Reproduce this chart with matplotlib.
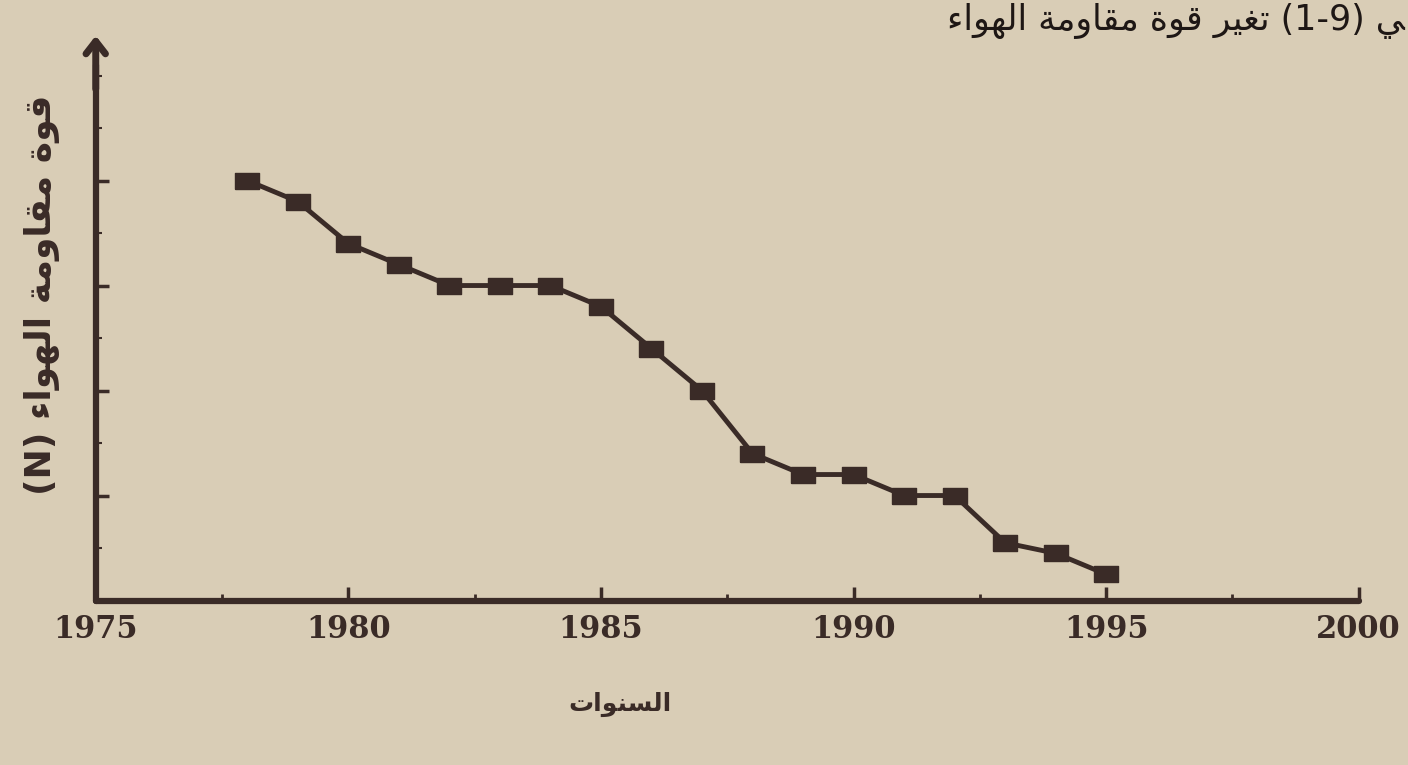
import matplotlib
matplotlib.use("Agg")
import matplotlib.pyplot as plt
from matplotlib.ticker import MultipleLocator, NullFormatter

# ---------------- data ----------------
years = [1978, 1979, 1980, 1981, 1982, 1983, 1984, 1985, 1986,
         1987, 1988, 1989, 1990, 1991, 1992, 1993, 1994, 1995]
force = [4.0, 3.8, 3.4, 3.2, 3.0, 3.0, 3.0, 2.8, 2.4,
         2.0, 1.4, 1.2, 1.2, 1.0, 1.0, 0.55, 0.45, 0.25]
x_ticks = [1975, 1980, 1985, 1990, 1995, 2000]
x_tick_labels = ["1975", "1980", "1985", "1990", "1995", "2000"]
y_label_ar = "قوة مقاومة الهواء"
y_label_unit = "(N)"
x_label_ar = "السنوات"
caption_ar = "تغير قوة مقاومة الهواء"
caption_num = "(1-9)"

# ------------- minimal Arabic shaping (presentation forms, visual order) -------------
FORMS = {  # iso, fin, ini, med
    "ا": (0xFE8D, 0xFE8E, None, None),
    "ء": (0xFE80, None, None, None),
    "ة": (0xFE93, 0xFE94, None, None),
    "ت": (0xFE95, 0xFE96, 0xFE97, 0xFE98),
    "س": (0xFEB1, 0xFEB2, 0xFEB3, 0xFEB4),
    "ق": (0xFED5, 0xFED6, 0xFED7, 0xFED8),
    "ل": (0xFEDD, 0xFEDE, 0xFEDF, 0xFEE0),
    "م": (0xFEE1, 0xFEE2, 0xFEE3, 0xFEE4),
    "ن": (0xFEE5, 0xFEE6, 0xFEE7, 0xFEE8),
    "ه": (0xFEE9, 0xFEEA, 0xFEEB, 0xFEEC),
    "و": (0xFEED, 0xFEEE, None, None),
    "ي": (0xFEF1, 0xFEF2, 0xFEF3, 0xFEF4),
    "غ": (0xFECD, 0xFECE, 0xFECF, 0xFED0),
    "ر": (0xFEAD, 0xFEAE, None, None),
}


def joins_forward(ch):
    return ch in FORMS and FORMS[ch][2] is not None


def joins_backward(ch):
    return ch in FORMS and FORMS[ch][1] is not None


def shape(text):
    out = []
    for i, ch in enumerate(text):
        if ch not in FORMS:
            out.append(ch)
            continue
        iso, fin, ini, med = FORMS[ch]
        prev_j = i > 0 and joins_forward(text[i - 1]) and fin is not None
        next_j = (i < len(text) - 1 and ini is not None
                  and joins_backward(text[i + 1]))
        if prev_j and next_j:
            cp = med
        elif prev_j:
            cp = fin
        elif next_j:
            cp = ini
        else:
            cp = iso
        out.append(chr(cp))
    return "".join(reversed(out))


# ---------------- figure ----------------
INK = "#3a2b27"
BG = "#d9cdb6"

fig = plt.figure(figsize=(14.08, 7.65), dpi=100, facecolor=BG)
ax = fig.add_axes([0.068, 0.215, 0.897, 0.70])
ax.set_facecolor(BG)

ax.plot(years, force, color=INK, lw=3.5,
        marker=[(-1.4, -1), (1.4, -1), (1.4, 1), (-1.4, 1), (-1.4, -1)],
        markersize=17, markerfacecolor=INK, markeredgecolor=INK,
        clip_on=False, zorder=3)

ax.set_xlim(1975, 2000)
ax.set_ylim(0, 5.1)

for s in ["top", "right"]:
    ax.spines[s].set_visible(False)
for s in ["left", "bottom"]:
    ax.spines[s].set_linewidth(4.5)
    ax.spines[s].set_color(INK)
    ax.spines[s].set_capstyle("round")

ax.set_xticks(x_ticks)
ax.set_xticklabels(x_tick_labels, fontfamily="DejaVu Serif",
                   fontweight="bold", fontsize=22, color=INK)
ax.xaxis.set_minor_locator(MultipleLocator(2.5))
ax.set_yticks([1, 2, 3, 4])
ax.yaxis.set_major_formatter(NullFormatter())
ax.yaxis.set_minor_locator(MultipleLocator(0.5))
ax.tick_params(axis="x", which="major", direction="in", length=10,
               width=2.5, color=INK, pad=10)
ax.tick_params(axis="x", which="minor", direction="in", length=5,
               width=2, color=INK)
ax.tick_params(axis="y", which="major", direction="in", length=9,
               width=2.5, color=INK)
ax.tick_params(axis="y", which="minor", direction="in", length=4,
               width=1.5, color=INK)

# arrow head at top of the y axis
ax.annotate("", xy=(0, 1.06), xytext=(0, 0.95), xycoords="axes fraction",
            arrowprops=dict(arrowstyle="->,head_length=0.9,head_width=0.7",
                            lw=5, color=INK, capstyle="round",
                            joinstyle="round"),
            annotation_clip=False)

ax.set_ylabel(y_label_unit + " " + shape(y_label_ar), fontsize=26,
              fontweight="bold", color=INK, fontfamily="DejaVu Sans")
ax.yaxis.set_label_coords(-0.028, 0.57)

ax.set_xlabel(shape(x_label_ar), fontsize=18, fontweight="bold",
              color=INK, fontfamily="DejaVu Sans")
ax.xaxis.set_label_coords(0.415, -0.17)

fig.text(0.998, 0.972, shape(caption_ar) + " " + caption_num + " " + "ﻲ",
         ha="right", va="center", fontsize=25, color="#1e1715",
         fontfamily="DejaVu Sans")

fig.savefig("out.png", dpi=100, facecolor=BG)
